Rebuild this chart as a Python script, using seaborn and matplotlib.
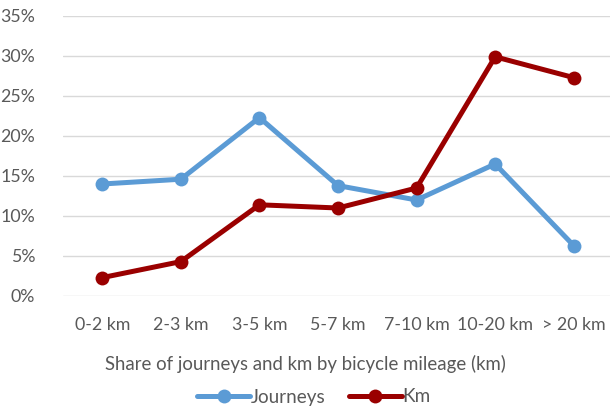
import numpy as np
import matplotlib.pyplot as plt
import pandas as pd
import seaborn as sns
from matplotlib.ticker import FuncFormatter

categories = ['0-2 km', '2-3 km', '3-5 km', '5-7 km', '7-10 km', '10-20 km', '> 20 km']
journeys = [14.0, 14.6, 22.3, 13.8, 12.0, 16.5, 6.3]
km = [2.3, 4.3, 11.4, 11.0, 13.5, 29.9, 27.3]
series_names = ['Journeys', 'Km']
colors = ['#5B9BD5', '#9A0000']

df = pd.DataFrame({
    'distance': categories * 2,
    'share': journeys + km,
    'series': [series_names[0]] * len(categories) + [series_names[1]] * len(categories),
})

sns.set_style('white')
plt.rcParams['font.family'] = ['Lato', 'DejaVu Sans']
text_color = '#595959'

fig = plt.figure(figsize=(6.1, 4.07), dpi=100)
ax = fig.add_axes([63 / 610, 1 - 296 / 407, 550 / 610, 280 / 407])

sns.lineplot(data=df, x='distance', y='share', hue='series', palette=colors,
             marker='o', markersize=10, markeredgewidth=0, linewidth=3.6,
             sort=False, ax=ax, legend=False)

ax.set_xlim(-0.5, len(categories) - 0.5)
ax.set_ylim(0, 35)
ax.set_yticks(np.arange(0, 36, 5))
ax.yaxis.set_major_formatter(FuncFormatter(lambda v, p: '{:.0f}%'.format(v)))
ax.grid(axis='y', color='#D9D9D9', linewidth=1)
ax.set_axisbelow(True)
for s in ax.spines.values():
    s.set_visible(False)
ax.tick_params(axis='both', length=0, labelsize=12.8, labelcolor=text_color)
ax.tick_params(axis='y', pad=20)
ax.tick_params(axis='x', pad=15)
ax.set_xlabel('')
ax.set_ylabel('')

# axis title is centred on the figure, not on the plot area
fig.text(0.5, 1 - 364 / 407, 'Share of journeys and km by bicycle mileage (km)',
         ha='center', va='center', fontsize=13.4, color=text_color)

handles = [plt.Line2D([], [], color=c, linewidth=3.6, marker='o', markersize=10,
                      markeredgewidth=0) for c in colors]
fig.legend(handles, series_names, loc='center', bbox_to_anchor=(0.515, 1 - 397 / 407),
           ncol=2, frameon=False, fontsize=13.6, labelcolor=text_color,
           handlelength=2.8, handletextpad=0.05, columnspacing=1.2)

fig.savefig('out.png', dpi=100)
